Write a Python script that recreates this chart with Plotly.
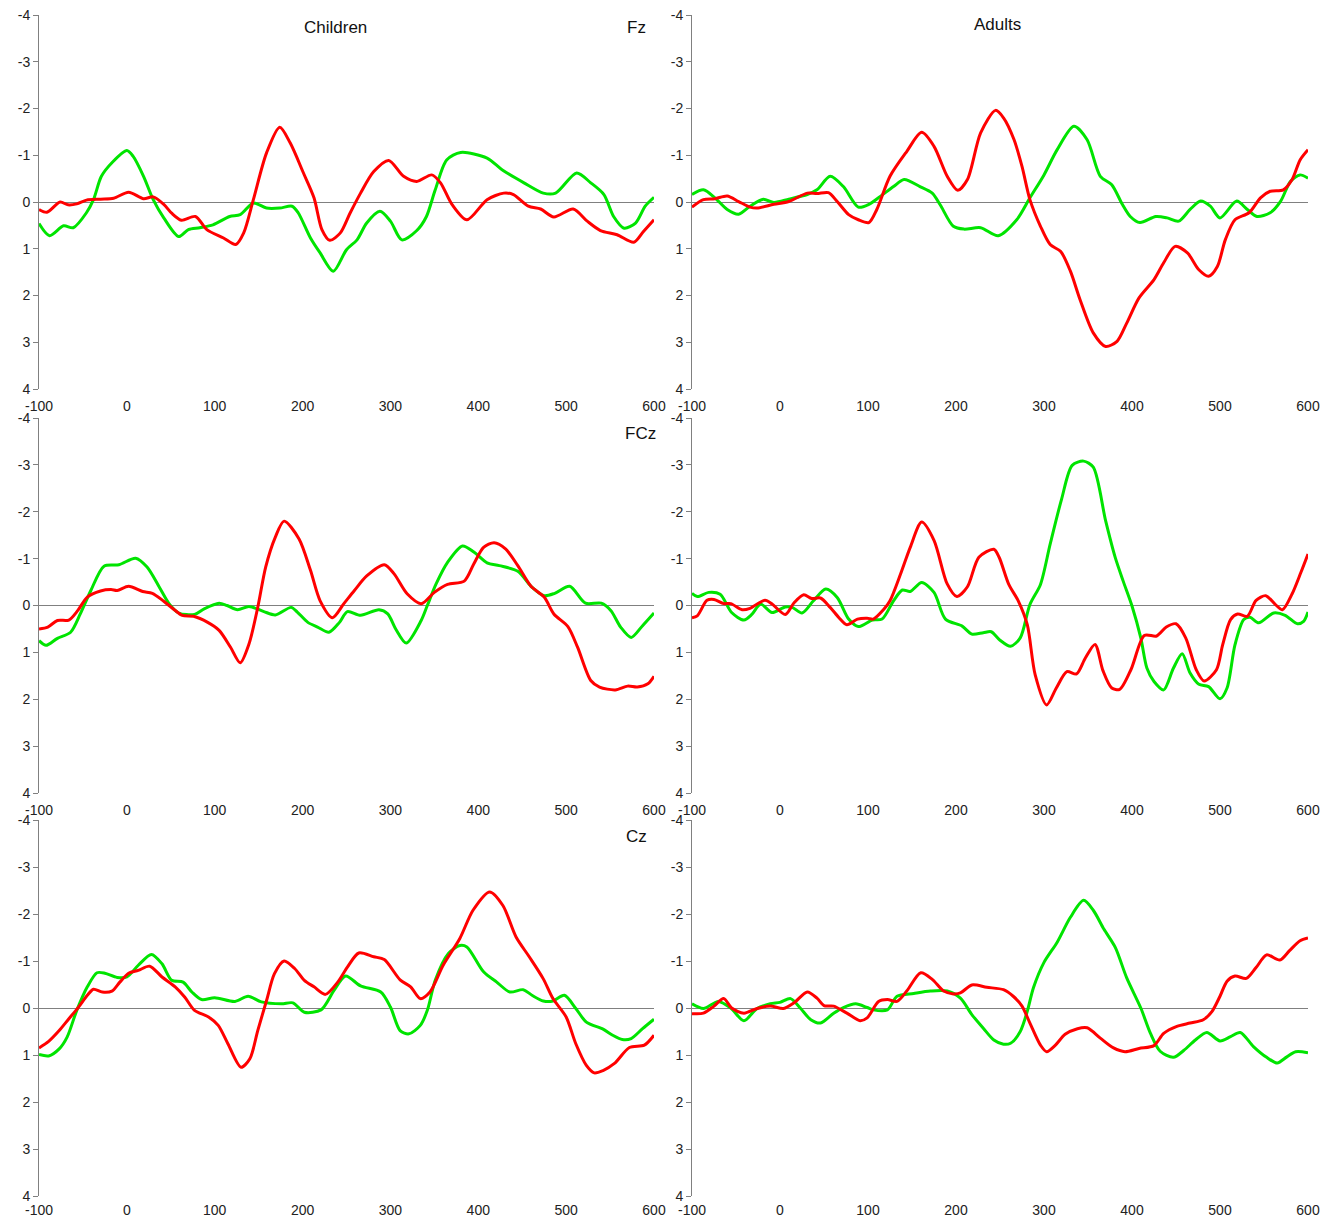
import plotly.graph_objects as go

# ---------------- data (amplitude in microvolts, time in ms) ----------------
x_ticks = [-100, 0, 100, 200, 300, 400, 500, 600]
y_ticks = [-4, -3, -2, -1, 0, 1, 2, 3, 4]

panel_titles = ["Children", "Adults"]
electrodes = ["Fz", "FCz", "Cz"]

# Children Fz
ch_fz_green_t = [-100,-88,-72,-61,-46,-38,-29,-17,0,7,19,30,42,59,70,83,98,117,129,144,159,174,188,195,209,220,235,250,262,273,288,300,313,330,341,351,364,380,410,427,452,474,488,512,528,543,554,566,579,590,600]
ch_fz_green_v = [0.46,0.72,0.51,0.55,0.23,-0.05,-0.55,-0.84,-1.10,-0.98,-0.55,-0.05,0.34,0.74,0.59,0.55,0.49,0.31,0.27,0.02,0.13,0.13,0.09,0.23,0.77,1.09,1.48,1.02,0.81,0.45,0.20,0.41,0.81,0.61,0.31,-0.26,-0.90,-1.06,-0.94,-0.69,-0.41,-0.19,-0.19,-0.62,-0.41,-0.16,0.31,0.56,0.45,0.09,-0.10]
ch_fz_red_t = [-100,-91,-76,-67,-57,-46,-30,-15,2,19,30,42,51,62,78,91,110,124,133,144,159,174,186,201,213,222,231,243,254,266,281,298,315,330,347,357,370,387,410,429,440,457,471,486,508,524,539,558,577,588,600]
ch_fz_red_v = [0.16,0.22,0.0,0.06,0.04,-0.04,-0.06,-0.08,-0.21,-0.07,-0.11,0.05,0.24,0.39,0.31,0.59,0.77,0.91,0.66,-0.05,-1.05,-1.60,-1.26,-0.62,-0.09,0.59,0.82,0.66,0.24,-0.19,-0.65,-0.89,-0.55,-0.44,-0.58,-0.41,0.05,0.38,-0.05,-0.19,-0.16,0.09,0.15,0.32,0.15,0.41,0.61,0.70,0.86,0.63,0.38]

# Adults Fz
ad_fz_green_t = [-100,-87,-74,-60,-47,-34,-19,-7,10,31,42,57,72,89,101,114,129,141,159,173,182,197,209,228,248,269,284,300,315,334,349,364,377,389,398,409,427,440,453,466,478,489,500,519,531,542,557,569,580,591,600]
ad_fz_green_v = [-0.16,-0.26,-0.09,0.16,0.26,0.09,-0.06,0.01,-0.06,-0.16,-0.26,-0.55,-0.33,0.11,0.05,-0.12,-0.33,-0.48,-0.33,-0.19,0.06,0.52,0.58,0.55,0.72,0.38,-0.09,-0.58,-1.12,-1.62,-1.33,-0.55,-0.37,0.05,0.31,0.44,0.31,0.34,0.41,0.16,-0.02,0.09,0.34,-0.02,0.16,0.31,0.23,-0.02,-0.44,-0.58,-0.51]
ad_fz_red_t = [-100,-87,-74,-60,-47,-34,-26,-7,10,31,42,55,65,78,89,101,110,125,144,161,175,190,202,213,228,245,254,266,275,284,296,307,319,330,341,356,370,383,394,408,425,436,449,463,476,487,497,506,517,533,546,557,572,582,591,600]
ad_fz_red_v = [0.11,-0.05,-0.07,-0.13,-0.01,0.11,0.13,0.05,-0.01,-0.19,-0.18,-0.20,-0.01,0.27,0.38,0.44,0.16,-0.55,-1.08,-1.49,-1.19,-0.55,-0.25,-0.48,-1.48,-1.96,-1.80,-1.33,-0.76,-0.05,0.52,0.91,1.06,1.48,2.09,2.80,3.09,2.98,2.59,2.05,1.66,1.30,0.95,1.09,1.45,1.59,1.38,0.81,0.38,0.23,-0.09,-0.23,-0.26,-0.48,-0.90,-1.12]

# Children FCz
ch_fcz_green_t = [-100,-92,-79,-64,-53,-41,-26,-9,10,23,37,48,59,77,88,105,114,126,139,156,169,187,194,206,217,230,242,251,266,287,297,306,318,335,342,352,365,382,395,410,424,445,460,475,487,504,522,540,551,562,574,587,600]
ch_fcz_green_v = [0.75,0.85,0.70,0.57,0.18,-0.32,-0.84,-0.87,-1.01,-0.82,-0.39,-0.04,0.16,0.19,0.07,-0.05,0.0,0.09,0.02,0.13,0.20,0.04,0.14,0.36,0.46,0.57,0.36,0.13,0.21,0.09,0.18,0.50,0.80,0.32,0.0,-0.46,-0.92,-1.27,-1.14,-0.91,-0.85,-0.73,-0.41,-0.21,-0.26,-0.41,-0.05,-0.05,0.11,0.46,0.68,0.43,0.16]
ch_fcz_red_t = [-100,-90,-79,-66,-56,-45,-30,-18,-11,2,18,29,42,54,63,76,92,105,118,129,139,149,158,169,179,196,209,220,234,247,259,273,293,304,319,335,350,365,384,395,406,418,431,445,460,475,486,502,513,528,538,556,570,581,593,600]
ch_fcz_red_v = [0.50,0.46,0.32,0.31,0.11,-0.18,-0.31,-0.34,-0.32,-0.41,-0.30,-0.26,-0.09,0.09,0.21,0.23,0.36,0.53,0.89,1.22,0.82,0.04,-0.82,-1.46,-1.80,-1.42,-0.75,-0.10,0.26,-0.04,-0.32,-0.63,-0.87,-0.68,-0.25,-0.04,-0.28,-0.45,-0.52,-0.89,-1.24,-1.34,-1.21,-0.85,-0.41,-0.18,0.18,0.45,0.89,1.60,1.74,1.80,1.72,1.74,1.67,1.51]

# Adults FCz
ad_fcz_green_t = [-100,-94,-81,-68,-55,-41,-32,-22,-9,6,14,25,38,52,65,78,89,105,116,129,139,148,161,175,188,207,218,231,240,250,262,273,284,296,307,320,332,345,356,370,381,390,400,410,417,425,436,447,457,466,476,487,500,508,517,527,534,544,561,574,588,595,600]
ad_fcz_green_v = [-0.26,-0.19,-0.28,-0.24,0.15,0.31,0.19,-0.03,0.15,0.03,0.04,0.16,-0.10,-0.35,-0.17,0.29,0.45,0.31,0.29,-0.10,-0.33,-0.30,-0.49,-0.28,0.29,0.44,0.61,0.58,0.56,0.74,0.87,0.69,-0.02,-0.45,-1.31,-2.27,-2.99,-3.08,-2.95,-1.81,-1.02,-0.52,0.01,0.69,1.34,1.62,1.80,1.34,1.03,1.44,1.68,1.73,1.99,1.76,0.84,0.30,0.25,0.37,0.16,0.21,0.39,0.34,0.14]
ad_fcz_red_t = [-100,-94,-83,-75,-64,-56,-43,-34,-17,-9,6,16,27,36,46,57,67,76,88,99,106,118,125,137,148,161,175,190,201,213,226,243,249,260,271,281,290,303,314,326,337,347,358,367,377,386,399,414,428,439,450,461,473,482,496,503,512,520,531,541,552,563,571,582,592,600]
ad_fcz_red_v = [0.26,0.22,-0.11,-0.13,-0.04,-0.04,0.09,0.06,-0.11,-0.03,0.19,-0.06,-0.23,-0.15,-0.16,0.04,0.26,0.41,0.29,0.27,0.29,0.08,-0.10,-0.67,-1.24,-1.78,-1.39,-0.46,-0.19,-0.40,-1.03,-1.20,-1.03,-0.45,-0.09,0.41,1.48,2.12,1.76,1.41,1.46,1.12,0.83,1.39,1.76,1.79,1.36,0.64,0.65,0.46,0.39,0.69,1.37,1.61,1.37,0.84,0.30,0.18,0.23,-0.11,-0.21,-0.02,0.09,-0.25,-0.71,-1.10]

# Children Cz
ch_cz_green_t = [-100,-89,-77,-68,-57,-45,-34,-25,-11,0,13,28,40,51,64,74,85,100,123,138,153,176,189,202,221,236,249,266,289,300,311,321,334,342,351,366,379,387,406,421,436,451,462,474,485,498,511,523,542,553,564,574,587,600]
ch_cz_green_v = [0.99,1.02,0.87,0.62,0.05,-0.45,-0.75,-0.74,-0.65,-0.66,-0.91,-1.14,-0.94,-0.59,-0.55,-0.34,-0.18,-0.22,-0.14,-0.25,-0.13,-0.09,-0.11,0.09,0.04,-0.38,-0.68,-0.47,-0.34,-0.02,0.48,0.55,0.37,0.05,-0.59,-1.16,-1.33,-1.30,-0.77,-0.55,-0.34,-0.39,-0.26,-0.15,-0.15,-0.27,0.01,0.30,0.45,0.58,0.67,0.65,0.44,0.24]
ch_cz_red_t = [-100,-89,-77,-66,-55,-45,-38,-28,-17,-8,2,13,26,40,55,66,77,93,104,115,130,140,149,159,168,179,191,202,213,226,240,251,264,281,293,311,323,334,345,360,379,394,413,428,443,458,474,485,500,511,523,532,542,555,572,589,600]
ch_cz_red_v = [0.85,0.71,0.48,0.23,-0.02,-0.27,-0.40,-0.34,-0.36,-0.55,-0.74,-0.80,-0.89,-0.66,-0.45,-0.23,0.05,0.19,0.37,0.76,1.26,1.08,0.48,-0.16,-0.73,-1.00,-0.84,-0.59,-0.45,-0.29,-0.55,-0.87,-1.17,-1.09,-1.03,-0.60,-0.45,-0.20,-0.34,-0.91,-1.48,-2.08,-2.47,-2.18,-1.51,-1.09,-0.62,-0.20,0.19,0.76,1.22,1.38,1.33,1.18,0.84,0.79,0.58]

# Adults Cz
ad_cz_green_t = [-100,-87,-70,-56,-41,-26,-11,0,12,23,35,46,61,72,86,99,106,122,133,152,171,190,205,218,231,243,254,262,273,281,288,300,315,330,345,356,368,381,394,410,421,432,447,459,472,485,500,512,523,538,553,565,576,586,600]
ad_cz_green_v = [-0.09,0.01,-0.14,0.0,0.27,0.01,-0.09,-0.12,-0.20,0.0,0.25,0.32,0.11,-0.01,-0.09,-0.01,0.04,0.04,-0.25,-0.31,-0.36,-0.36,-0.21,0.14,0.43,0.68,0.77,0.75,0.50,0.07,-0.43,-0.97,-1.40,-1.93,-2.29,-2.08,-1.68,-1.29,-0.64,0.0,0.54,0.92,1.05,0.90,0.68,0.52,0.70,0.61,0.52,0.82,1.05,1.17,1.04,0.93,0.95]
ad_cz_red_t = [-100,-87,-75,-64,-55,-41,-26,-11,4,16,31,42,50,61,76,91,99,112,122,133,144,160,173,186,197,205,218,235,254,265,275,284,296,303,313,324,338,349,364,379,392,408,425,436,451,466,481,491,500,508,517,530,541,553,568,579,591,600]
ad_cz_red_v = [0.12,0.11,-0.04,-0.2,0.0,0.11,0.01,-0.04,0.01,-0.11,-0.34,-0.21,-0.05,-0.04,0.11,0.27,0.21,-0.14,-0.18,-0.14,-0.36,-0.75,-0.61,-0.36,-0.30,-0.32,-0.49,-0.44,-0.39,-0.25,-0.04,0.32,0.79,0.93,0.79,0.56,0.44,0.42,0.64,0.85,0.93,0.86,0.80,0.54,0.39,0.32,0.25,0.07,-0.25,-0.57,-0.68,-0.63,-0.86,-1.13,-1.02,-1.22,-1.43,-1.49]

# ---------------- figure ----------------
# The page body adds an 8 px margin, so the figure is placed at (8, 8) in the window.
OFF = 8
W, H = 1332 - OFF, 1219 - OFF
GREEN = "#00e400"
RED = "#ff0000"
FONT = "Liberation Sans, Arial, sans-serif"

panels = [
    (0, 0, ch_fz_green_t, ch_fz_green_v, ch_fz_red_t, ch_fz_red_v),
    (0, 1, ad_fz_green_t, ad_fz_green_v, ad_fz_red_t, ad_fz_red_v),
    (1, 0, ch_fcz_green_t, ch_fcz_green_v, ch_fcz_red_t, ch_fcz_red_v),
    (1, 1, ad_fcz_green_t, ad_fcz_green_v, ad_fcz_red_t, ad_fcz_red_v),
    (2, 0, ch_cz_green_t, ch_cz_green_v, ch_cz_red_t, ch_cz_red_v),
    (2, 1, ad_cz_green_t, ad_cz_green_v, ad_cz_red_t, ad_cz_red_v),
]

# plot-area positions in window pixels
x_dom_px = [(39, 654), (692, 1308)]
y_dom_px = [(15, 389), (418, 793), (820, 1196)]


def fx(px):
    return (px - OFF) / W


def fy(py):
    return 1 - (py - OFF) / H


fig = go.Figure()
layout = {}
for i, (r, c, gt, gv, rt, rv) in enumerate(panels):
    n = i + 1
    xa = "x" if n == 1 else f"x{n}"
    ya = "y" if n == 1 else f"y{n}"
    for t, v, col in ((gt, gv, GREEN), (rt, rv, RED)):
        fig.add_trace(go.Scatter(
            x=t, y=v, mode="lines", xaxis=xa, yaxis=ya, showlegend=False,
            line=dict(color=col, width=3, shape="spline", smoothing=0.8),
            hoverinfo="skip"))
    x0, x1 = x_dom_px[c]
    y0, y1 = y_dom_px[r]
    layout["xaxis" if n == 1 else f"xaxis{n}"] = dict(
        domain=[fx(x0), fx(x1)], anchor=ya, range=[-100, 600],
        tickvals=x_ticks, ticktext=[str(v) for v in x_ticks],
        showgrid=False, zeroline=False, showline=False, automargin=False,
        ticks="outside", ticklen=(1 if r == 2 else 4), tickcolor="rgba(0,0,0,0)",
        ticklabeloverflow="allow",
        tickfont=dict(family=FONT, size=14, color="#222222"),
        fixedrange=True)
    layout["yaxis" if n == 1 else f"yaxis{n}"] = dict(
        domain=[fy(y1), fy(y0)], anchor=xa, range=[4, -4],
        tickvals=y_ticks, ticktext=[str(v) for v in y_ticks],
        showgrid=False, zeroline=True, zerolinecolor="#808080", zerolinewidth=1,
        showline=True, linecolor="#808080", linewidth=1, automargin=False,
        ticks="outside", ticklen=5, tickcolor="#808080",
        ticklabeloverflow="allow",
        tickfont=dict(family=FONT, size=14, color="#222222"),
        fixedrange=True)

labels = [
    (panel_titles[0], 335, 27),
    (electrodes[0], 636, 27),
    (panel_titles[1], 997, 25),
    (electrodes[1], 640, 434),
    (electrodes[2], 636, 836),
]
annotations = [
    dict(text=txt, x=fx(px), y=fy(py), xref="paper", yref="paper",
         showarrow=False, xanchor="center", yanchor="middle",
         font=dict(family=FONT, size=17, color="#111111"))
    for txt, px, py in labels
]

fig.update_layout(
    template="none",
    width=W, height=H,
    margin=dict(l=0, r=0, t=0, b=0, autoexpand=False),
    paper_bgcolor="white", plot_bgcolor="white",
    annotations=annotations,
    **layout,
)

fig.write_html("out.html")
